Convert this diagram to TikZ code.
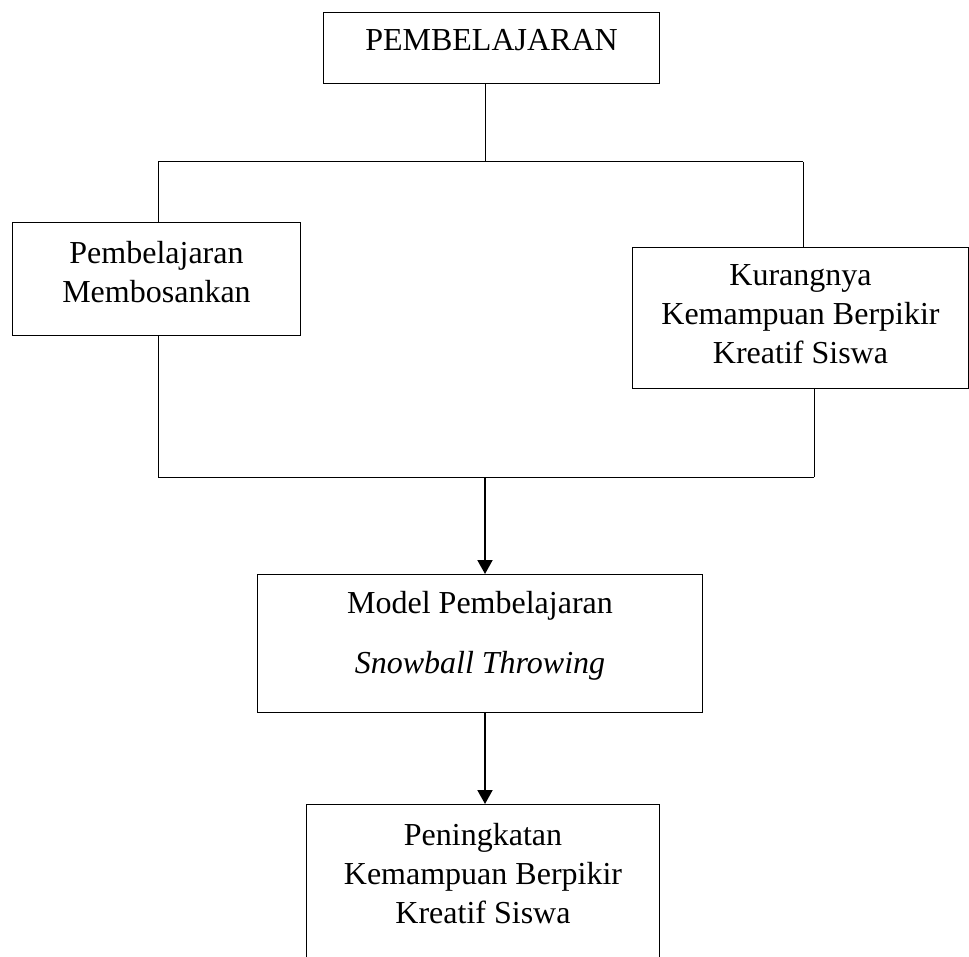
\documentclass[tikz,border=0pt]{standalone}
\usepackage{fontspec}
\setmainfont{Liberation Serif}
\usetikzlibrary{positioning,arrows.meta}

\begin{document}
\begin{tikzpicture}[
        x=1pt, y=-1pt,
        B/.style={draw, line width=1pt, anchor=north west, inner sep=0pt, align=center, font=\fontsize{32}{39}\selectfont},
        L/.style={line width=1pt},
        A/.style={line width=2pt, -{Triangle[length=14pt,width=15pt]}}
    ]
    \useasboundingbox (0,0) rectangle (969,957);

    \node[B, minimum width=336pt, text height=38pt, text depth=33pt]  (top)    at (323,12)  {PEMBELAJARAN};
    \node[B, minimum width=288pt, text height=80pt, text depth=33pt]  (left)   at (12,222)  {Pembelajaran\\Membosankan};
    \node[B, minimum width=336pt, text height=116pt, text depth=25pt] (right)  at (632,247) {Kurangnya\\Kemampuan Berpikir\\Kreatif Siswa};
    \node[B, minimum width=445pt, text height=99pt, text depth=39pt]  (model)  at (257,574) {Model Pembelajaran\\[21pt]\textit{Snowball Throwing}};
    \node[B, minimum width=353pt, text height=119pt, text depth=51pt] (result) at (306,804) {Peningkatan\\Kemampuan Berpikir\\Kreatif Siswa};

    \coordinate (split)  at (485,162);
    \coordinate (splitL) at (158,162);
    \coordinate (splitR) at (803,162);
    \coordinate (join)   at (485,477);
    \coordinate (joinL)  at (158,477);
    \coordinate (joinR)  at (814,477);

    \draw[L] (split |- top.south) -- (split);
    \draw[L] (splitL) -- (splitR);
    \draw[L] (splitL) -- (splitL |- left.north);
    \draw[L] (splitR) -- (splitR |- right.north);
    \draw[L] (joinL |- left.south) -- (joinL);
    \draw[L] (joinR |- right.south) -- (joinR);
    \draw[L] (joinL) -- (joinR);
    \draw[A] (join) -- (join |- model.north);
    \draw[A] (join |- model.south) -- (join |- result.north);
\end{tikzpicture}
\end{document}
